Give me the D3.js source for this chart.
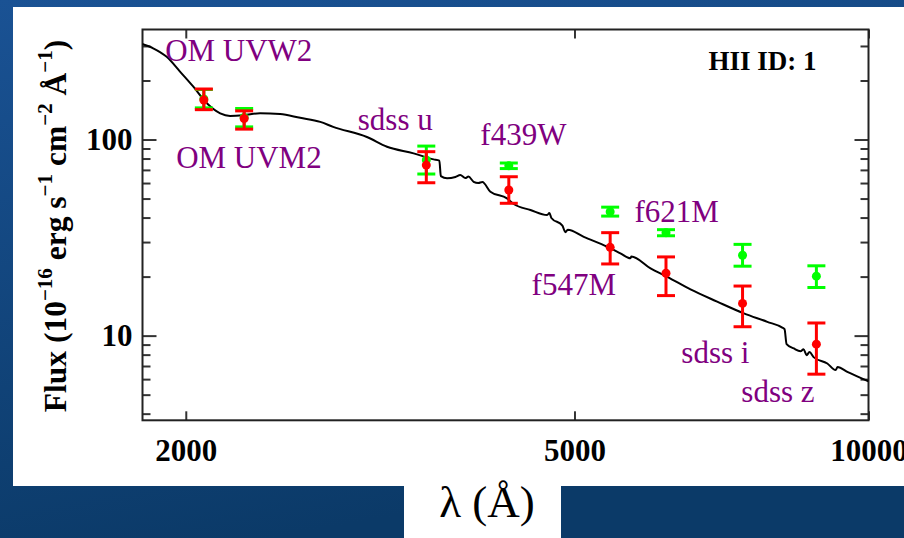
<!DOCTYPE html>
<html>
<head>
<meta charset="utf-8">
<script src="https://cdn.jsdelivr.net/npm/d3@7/dist/d3.min.js"></script>
<style>
  html, body { margin: 0; padding: 0; background: #0e4172; }
  svg { display: block; }
  .serif { font-family: "Liberation Serif", "Times New Roman", Times, serif; }
</style>
</head>
<body>
<svg id="chart" width="904" height="538"></svg>
<script>
// model spectrum (wavelength in A, flux in 1e-16 units)
const specLambda = [1805, 1852, 1912, 1973, 2036, 2102, 2169, 2220, 2291, 2383,
  2498, 2619, 2746, 2831, 3065, 3214, 3422, 3587, 3636, 3649,
  3703, 3776, 3820, 3866, 3894, 3942, 3986, 4024, 4101, 4265,
  4333, 4507, 4688, 4713, 4735, 4860, 4894, 4922, 5111, 5401,
  5572, 5705, 5718, 5982, 6222, 6573, 6999, 7454, 7877, 8161,
  8204, 8244, 8385, 8520, 8581, 8642, 8702, 8785, 9075, 9254,
  9297, 9513, 10000];
const specFlux = [307, 292, 264, 222, 186, 153, 136, 132, 133, 136,
  135, 129, 123, 116, 103, 91.9, 85.0, 79.2, 78.1, 65.1,
  63.4, 64.4, 65.9, 63.6, 64.7, 60.9, 60.0, 60.7, 54.2, 50.1,
  46.9, 43.7, 41.2, 42.2, 39.8, 36.4, 33.7, 34.7, 31.9, 28.4,
  26.3, 24.8, 25.3, 22.0, 19.95, 17.2, 14.9, 12.98, 11.76, 10.99,
  10.79, 9.05, 8.60, 8.33, 8.53, 7.95, 8.24, 7.77, 7.21, 6.67,
  6.91, 6.54, 5.85];

// photometric points
const bandLambda = [2087, 2295, 3526, 4283, 5439, 6204, 7431, 8844];
const redFlux = [159, 128, 74.1, 55.3, 28.2, 20.8, 14.6, 9.05];
const redHi   = [181, 140, 86.7, 64.6, 33.5, 25.2, 17.9, 11.6];
const redLo   = [142, 113, 60.2, 47.3, 23.2, 16.0, 11.1, 6.36];
const greenFlux = [161, 129.5, 78.6, 73.4, 42.8, 33.5, 25.7, 20.1];
const greenHi   = [180, 144, 92.6, 75.9, 45.2, 34.7, 29.2, 22.7];
const greenLo   = [145, 116, 66.7, 71.1, 40.7, 32.3, 22.6, 17.6];

// filter labels, anchored in data units (left end of the baseline)
const labelText   = ['OM UVW2', 'OM UVM2', 'sdss u', 'f439W', 'f547M', 'f621M', 'sdss i', 'sdss z'];
const labelLambda = [1905, 1955, 3000, 4005, 4519, 5759, 6433, 7410];
const labelFlux   = [251, 71.6, 111.8, 93.7, 16.1, 38.1, 7.24, 4.60];

const xTicks = [2000, 5000, 10000];
const yMajor = [10, 100];
const yMinor = [4, 5, 6, 7, 8, 9, 20, 30, 40, 50, 60, 70, 80, 90, 200, 300];

const W = 904, H = 538;
const m = { left: 142.5, right: 868.5, top: 29.5, bottom: 420.3 };
const svg = d3.select('#chart');

// slide background + white panel
const defs = svg.append('defs');
const grad = defs.append('linearGradient').attr('id', 'bg')
  .attr('x1', 0).attr('y1', 0).attr('x2', 0.3).attr('y2', 1);
grad.append('stop').attr('offset', '0%').attr('stop-color', '#1a5294');
grad.append('stop').attr('offset', '100%').attr('stop-color', '#0b3a68');
svg.append('rect').attr('width', W).attr('height', H).attr('fill', 'url(#bg)');
svg.append('rect').attr('x', 13).attr('y', 7).attr('width', W - 13).attr('height', 479).attr('fill', '#fff');
svg.append('rect').attr('x', 404).attr('y', 485).attr('width', 157).attr('height', H - 485).attr('fill', '#fff');

defs.append('clipPath').attr('id', 'plot-clip')
  .append('rect').attr('x', m.left).attr('y', m.top)
  .attr('width', m.right - m.left).attr('height', m.bottom - m.top);

const x = d3.scaleLog().domain([1806, 10000]).range([m.left, m.right]);
const y = d3.scaleLog().domain([3.7, 364]).range([m.bottom, m.top]);

// axes
const axisColor = '#333';
function styleAxis(g) {
  g.select('.domain').remove();
  g.selectAll('line').attr('stroke', axisColor).attr('stroke-width', 2);
  g.selectAll('text').attr('class', 'serif')
    .attr('font-size', 31).attr('font-weight', 'bold').attr('fill', '#000');
}

svg.append('g').attr('transform', `translate(${m.left},0)`)
  .call(d3.axisLeft(y).tickValues(yMinor).tickSize(-8).tickFormat(''))
  .call(styleAxis);
svg.append('g').attr('transform', `translate(${m.left},0)`)
  .call(d3.axisLeft(y).tickValues(yMajor).tickSize(-14).tickPadding(10).tickFormat(d3.format('d')))
  .call(styleAxis);
svg.append('g').attr('transform', `translate(${m.right},0)`)
  .call(d3.axisRight(y).tickValues(yMinor).tickSize(-8).tickFormat(''))
  .call(styleAxis);
svg.append('g').attr('transform', `translate(${m.right},0)`)
  .call(d3.axisRight(y).tickValues(yMajor).tickSize(-14).tickFormat(''))
  .call(styleAxis);
svg.append('g').attr('transform', `translate(0,${m.bottom})`)
  .call(d3.axisBottom(x).tickValues(xTicks).tickSize(-9).tickPadding(19).tickFormat(d3.format('d')))
  .call(styleAxis);
svg.append('g').attr('transform', `translate(0,${m.top})`)
  .call(d3.axisTop(x).tickValues(xTicks).tickSize(-9).tickFormat(''))
  .call(styleAxis);

// frame
svg.append('rect').attr('x', m.left).attr('y', m.top)
  .attr('width', m.right - m.left).attr('height', m.bottom - m.top)
  .attr('fill', 'none').attr('stroke', '#222').attr('stroke-width', 2);

// spectrum
const spec = specLambda.map((l, i) => [l, specFlux[i]]);
svg.append('path').datum(spec)
  .attr('clip-path', 'url(#plot-clip)')
  .attr('fill', 'none').attr('stroke', '#000').attr('stroke-width', 2)
  .attr('stroke-linejoin', 'round')
  .attr('d', d3.line().x(d => x(d[0])).y(d => y(d[1])).curve(d3.curveMonotoneX));

// error bars, green under red
function drawPoints(flux, hi, lo, color) {
  const pts = bandLambda.map((l, i) => ({ l, f: flux[i], hi: hi[i], lo: lo[i] }));
  const g = svg.append('g').attr('stroke', color).attr('stroke-width', 3).attr('fill', color);
  const cap = 9;
  const sel = g.selectAll('g').data(pts).enter().append('g');
  sel.append('line')
    .attr('x1', d => x(d.l)).attr('x2', d => x(d.l))
    .attr('y1', d => y(d.hi)).attr('y2', d => y(d.lo));
  sel.append('line')
    .attr('x1', d => x(d.l) - cap).attr('x2', d => x(d.l) + cap)
    .attr('y1', d => y(d.hi)).attr('y2', d => y(d.hi));
  sel.append('line')
    .attr('x1', d => x(d.l) - cap).attr('x2', d => x(d.l) + cap)
    .attr('y1', d => y(d.lo)).attr('y2', d => y(d.lo));
  sel.append('circle').attr('stroke', 'none')
    .attr('cx', d => x(d.l)).attr('cy', d => y(d.f)).attr('r', 4.5);
}
drawPoints(greenFlux, greenHi, greenLo, '#00ff00');
drawPoints(redFlux, redHi, redLo, '#ff0000');

// filter labels
svg.append('g').selectAll('text').data(labelText).enter().append('text')
  .attr('class', 'serif').attr('font-size', 31).attr('fill', '#800080')
  .attr('x', (d, i) => x(labelLambda[i])).attr('y', (d, i) => y(labelFlux[i]))
  .text(d => d);

svg.append('text').attr('class', 'serif')
  .attr('x', m.right - 52).attr('y', m.top + 40.5)
  .attr('text-anchor', 'end').attr('font-size', 27).attr('font-weight', 'bold')
  .text('HII ID: 1');

// y title with superscripts
const yTitle = svg.append('text').attr('class', 'serif')
  .attr('transform', 'translate(66,226) rotate(-90)')
  .attr('text-anchor', 'middle').attr('font-size', 31.5).attr('font-weight', 'bold');
const parts = [['Flux (10', ''], ['\u221216', 'sup'], [' erg s', ''], ['\u22121', 'sup'],
  [' cm', ''], ['\u22122', 'sup'], [' \u00c5', ''], ['\u22121', 'sup'], [')', '']];
let up = false;
parts.forEach(([t, kind]) => {
  const ts = yTitle.append('tspan').text(t);
  if (kind === 'sup') { ts.attr('font-size', 21).attr('dy', -14); up = true; }
  else if (up) { ts.attr('dy', 14); up = false; }
});

// x title in the white tab below
svg.append('text').attr('class', 'serif')
  .attr('x', 487).attr('y', 517).attr('text-anchor', 'middle')
  .attr('font-size', 45).text('\u03bb (\u00c5)');
</script>
</body>
</html>
